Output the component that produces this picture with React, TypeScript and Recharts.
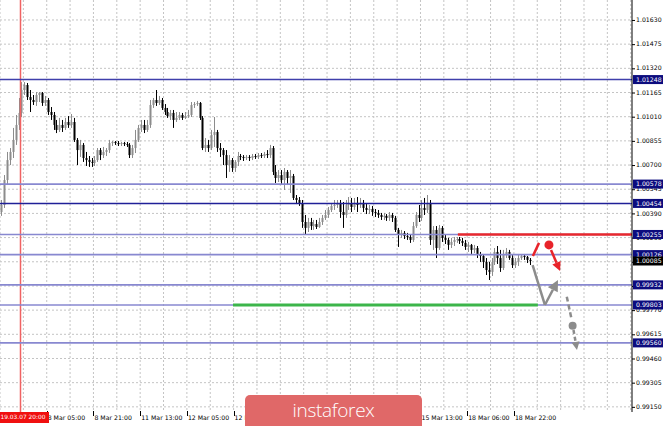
import React from 'react';
import { ComposedChart, Bar, XAxis, YAxis, CartesianGrid, ReferenceLine, ReferenceDot } from 'recharts';

// ---- OHLC (H1 candles) ----
const opens = [
  1.00399, 1.00444, 1.00604, 1.00732, 1.00784, 1.00861, 1.00957, 1.01034, 1.01181, 1.01213,
  1.01136, 1.01117, 1.01104, 1.01149, 1.01162, 1.01098, 1.01117, 1.0104, 1.01021, 1.00957,
  1.00925, 1.00957, 1.00938, 1.00976, 1.00957, 1.00976, 1.00861, 1.00796, 1.00829, 1.00745,
  1.00732, 1.0072, 1.00713, 1.00732, 1.00796, 1.00764, 1.00784, 1.00796, 1.00841, 1.00848,
  1.00841, 1.00835, 1.00841, 1.00835, 1.00829, 1.00764, 1.00809, 1.00861, 1.00938, 1.00957,
  1.00925, 1.00957, 1.01085, 1.01117, 1.01098, 1.01117, 1.01066, 1.0104, 1.01014, 1.01034,
  1.00989, 1.01002, 1.01021, 1.01002, 1.01014, 1.01021, 1.01085, 1.01091, 1.01098, 1.01002,
  1.00809, 1.00829, 1.00809, 1.00893, 1.00912, 1.00809, 1.00796, 1.00764, 1.007, 1.00732,
  1.00681, 1.0072, 1.00758, 1.00752, 1.00745, 1.00752, 1.00745, 1.00758, 1.00752, 1.00764,
  1.00758, 1.00771, 1.00764, 1.00809, 1.00656, 1.00617, 1.00636, 1.00604, 1.00656, 1.00617,
  1.0063, 1.00489, 1.00476, 1.00457, 1.00335, 1.00297, 1.00335, 1.00309, 1.00322, 1.00303,
  1.00335, 1.00361, 1.0038, 1.00412, 1.00438, 1.00444, 1.00457, 1.00399, 1.0038, 1.00444,
  1.00457, 1.00431, 1.00457, 1.00444, 1.00457, 1.00425, 1.00412, 1.00418, 1.00399, 1.00393,
  1.0038, 1.00367, 1.00374, 1.00361, 1.0038, 1.00361, 1.00284, 1.00252, 1.00265, 1.00245,
  1.00239, 1.0022, 1.00309, 1.0038, 1.00361, 1.00425, 1.00412, 1.00457, 1.0022, 1.00284,
  1.00168, 1.00297, 1.00233, 1.0022, 1.00188, 1.00207, 1.0022, 1.00226, 1.00213, 1.00201,
  1.00175, 1.00188, 1.00156, 1.00168, 1.00124, 1.00117, 1.00079, 1.00027, 1.00015, 1.00079,
  1.00143, 1.00104, 1.0004, 1.00124, 1.00143, 1.00104, 1.00059, 1.00079, 1.00104, 1.00117,
  1.00111, 1.00092,
];
const highs = [
  1.00476, 1.00636, 1.00784, 1.00809, 1.00938, 1.01021, 1.0113, 1.01232, 1.01232, 1.01226,
  1.01181, 1.01149, 1.01168, 1.01168, 1.01168, 1.01143, 1.0113, 1.01072, 1.0104, 1.00989,
  1.01002, 1.00989, 1.01002, 1.01014, 1.01027, 1.01002, 1.00873, 1.00861, 1.00841, 1.00784,
  1.00758, 1.00745, 1.00758, 1.00809, 1.00809, 1.00816, 1.00809, 1.00861, 1.00854, 1.00854,
  1.00854, 1.00848, 1.00848, 1.00848, 1.00841, 1.00829, 1.00925, 1.00957, 1.00989, 1.00989,
  1.00989, 1.01117, 1.0113, 1.01181, 1.01143, 1.0113, 1.01091, 1.01066, 1.01053, 1.01053,
  1.0104, 1.0104, 1.01034, 1.0104, 1.01053, 1.01104, 1.01104, 1.01111, 1.01104, 1.01014,
  1.00873, 1.00861, 1.00925, 1.01008, 1.00925, 1.00841, 1.00809, 1.00796, 1.00764, 1.00745,
  1.00732, 1.00784, 1.00771, 1.00764, 1.00764, 1.00764, 1.00771, 1.00771, 1.00777, 1.00777,
  1.00784, 1.00796, 1.00829, 1.00822, 1.007, 1.00668, 1.00668, 1.00681, 1.00668, 1.00668,
  1.00643, 1.00508, 1.00495, 1.00476, 1.0038, 1.00361, 1.00361, 1.00348, 1.00348, 1.00361,
  1.0038, 1.00412, 1.00431, 1.00457, 1.00476, 1.00476, 1.00476, 1.00463, 1.00476, 1.00495,
  1.00489, 1.00489, 1.00495, 1.00489, 1.00476, 1.0045, 1.00444, 1.00438, 1.00418, 1.00412,
  1.00393, 1.00393, 1.00386, 1.00399, 1.00393, 1.00374, 1.00297, 1.00284, 1.00277, 1.00265,
  1.00258, 1.00335, 1.00399, 1.00444, 1.00476, 1.00489, 1.00508, 1.00476, 1.00309, 1.00309,
  1.00316, 1.00309, 1.00252, 1.00233, 1.00233, 1.00239, 1.00239, 1.00239, 1.00233, 1.0022,
  1.00207, 1.00194, 1.00188, 1.00181, 1.00143, 1.0013, 1.00104, 1.00079, 1.00104, 1.00168,
  1.00181, 1.00156, 1.00156, 1.00168, 1.00156, 1.00124, 1.00104, 1.0013, 1.0013, 1.0013,
  1.00117, 1.00104,
];
const lows = [
  1.00374, 1.00425, 1.00572, 1.007, 1.00745, 1.00829, 1.00925, 1.01008, 1.01149, 1.01117,
  1.0104, 1.01085, 1.01079, 1.01104, 1.01079, 1.01079, 1.01021, 1.00989, 1.00925, 1.00905,
  1.00912, 1.00912, 1.00925, 1.00938, 1.00938, 1.00848, 1.007, 1.00752, 1.0072, 1.00694,
  1.00688, 1.00688, 1.00694, 1.0072, 1.00732, 1.00745, 1.00758, 1.00777, 1.00822, 1.00829,
  1.00822, 1.00822, 1.00822, 1.00816, 1.00745, 1.00745, 1.00777, 1.00848, 1.00912, 1.00905,
  1.00912, 1.00938, 1.01066, 1.01079, 1.01085, 1.01053, 1.01021, 1.01002, 1.00989, 1.00938,
  1.00976, 1.00989, 1.00989, 1.00995, 1.01002, 1.01008, 1.01066, 1.01079, 1.00989, 1.00796,
  1.00784, 1.00784, 1.00796, 1.00816, 1.00784, 1.00752, 1.007, 1.00617, 1.00656, 1.00656,
  1.00656, 1.00694, 1.00732, 1.00726, 1.00732, 1.00726, 1.00732, 1.00739, 1.00739, 1.00745,
  1.00745, 1.00745, 1.00745, 1.00636, 1.00585, 1.00591, 1.00572, 1.0054, 1.00572, 1.00521,
  1.00476, 1.0045, 1.00438, 1.00297, 1.00252, 1.00271, 1.00284, 1.00284, 1.0029, 1.00297,
  1.00316, 1.00348, 1.00361, 1.00399, 1.00412, 1.00425, 1.00361, 1.00297, 1.00361, 1.00412,
  1.00399, 1.00412, 1.00399, 1.00425, 1.00399, 1.00386, 1.00386, 1.00374, 1.00367, 1.00361,
  1.00348, 1.00348, 1.00342, 1.00342, 1.00335, 1.00271, 1.00175, 1.00233, 1.00226, 1.0022,
  1.00201, 1.00207, 1.00297, 1.00335, 1.00342, 1.0038, 1.00393, 1.00188, 1.00156, 1.00104,
  1.00156, 1.00207, 1.00194, 1.00156, 1.00168, 1.00181, 1.00201, 1.00194, 1.00181, 1.00156,
  1.00143, 1.0013, 1.00136, 1.00104, 1.00079, 1.0004, 0.99995, 0.99963, 0.99989, 1.00059,
  1.00066, 1.00015, 1.00027, 1.00104, 1.00092, 1.0004, 1.0004, 1.00053, 1.00092, 1.00092,
  1.00072, 1.00059,
];
const closes = [
  1.00444, 1.00604, 1.00732, 1.00784, 1.00861, 1.00957, 1.01034, 1.01181, 1.01213, 1.01136,
  1.01117, 1.01104, 1.01149, 1.01162, 1.01098, 1.01117, 1.0104, 1.01021, 1.00957, 1.00925,
  1.00957, 1.00938, 1.00976, 1.00957, 1.00976, 1.00861, 1.00796, 1.00829, 1.00745, 1.00732,
  1.0072, 1.00713, 1.00732, 1.00796, 1.00764, 1.00784, 1.00796, 1.00841, 1.00848, 1.00841,
  1.00835, 1.00841, 1.00835, 1.00829, 1.00764, 1.00809, 1.00861, 1.00938, 1.00957, 1.00925,
  1.00957, 1.01085, 1.01117, 1.01098, 1.01117, 1.01066, 1.0104, 1.01014, 1.01034, 1.00989,
  1.01002, 1.01021, 1.01002, 1.01014, 1.01021, 1.01085, 1.01091, 1.01098, 1.01002, 1.00809,
  1.00829, 1.00809, 1.00893, 1.00912, 1.00809, 1.00796, 1.00764, 1.007, 1.00732, 1.00681,
  1.0072, 1.00758, 1.00752, 1.00745, 1.00752, 1.00745, 1.00758, 1.00752, 1.00764, 1.00758,
  1.00771, 1.00764, 1.00809, 1.00656, 1.00617, 1.00636, 1.00604, 1.00656, 1.00617, 1.0063,
  1.00489, 1.00476, 1.00457, 1.00335, 1.00297, 1.00335, 1.00309, 1.00322, 1.00303, 1.00335,
  1.00361, 1.0038, 1.00412, 1.00438, 1.00444, 1.00457, 1.00399, 1.0038, 1.00444, 1.00457,
  1.00431, 1.00457, 1.00444, 1.00457, 1.00425, 1.00412, 1.00418, 1.00399, 1.00393, 1.0038,
  1.00367, 1.00374, 1.00361, 1.0038, 1.00361, 1.00284, 1.00252, 1.00265, 1.00245, 1.00239,
  1.0022, 1.00309, 1.0038, 1.00361, 1.00425, 1.00412, 1.00457, 1.0022, 1.00284, 1.00168,
  1.00297, 1.00233, 1.0022, 1.00188, 1.00207, 1.0022, 1.00226, 1.00213, 1.00201, 1.00175,
  1.00188, 1.00156, 1.00168, 1.00124, 1.00117, 1.00079, 1.00027, 1.00015, 1.00079, 1.00143,
  1.00104, 1.0004, 1.00124, 1.00143, 1.00104, 1.00059, 1.00079, 1.00104, 1.00117, 1.00111,
  1.00092, 1.00085,
];

// ---- axes ----
const yTicks = [1.0163, 1.01475, 1.0132, 1.01165, 1.0101, 1.00855, 1.007, 1.00545, 1.0039, 1.00235, 1.0008, 0.99925, 0.9977, 0.99615, 0.9946, 0.99305, 0.9915];
const levelValues = [1.01248, 1.00578, 1.00454, 1.00255, 1.00126, 0.99932, 0.99803, 0.9956];
const levelColors = ['#3f3fab', '#8888d0', '#202098', '#8888d0', '#8888d0', '#8888d0', '#8888d0', '#8888d0'];
const currentPrice = 1.00085;
const xGridBars = [0, 8, 16, 24, 32, 40, 48, 56, 64, 72, 80, 88, 96, 104, 112, 120, 128, 136, 144, 152, 160, 168, 176, 184, 192, 200, 208, 216];
// labels visible in the picture (those under the logo are hidden)
const xLabelBars = [16, 32, 48, 64, 80, 144, 160, 176];
const xLabels = ['8 Mar 05:00', '8 Mar 21:00', '11 Mar 13:00', '12 Mar 05:00', '12 Mar 21:00', '15 Mar 13:00', '18 Mar 06:00', '18 Mar 22:00'];
const crossBar = 7.02;
const crossLabel = '19.03.07 20:00';

// ---- annotations (bar index, price) ----
const redSegment = { from: 156.8, to: 216.44, price: 1.00255 };
const greenSegment = { from: 79.8, to: 184.2, price: 0.99803 };
const redDash = [[182.5, 1.00117], [184.6, 1.00201]];
const redDot = [188.0, 1.00188];
const redArrow = [[188.7, 1.00156], [191.8, 1.00021]];
const grayLine = [[182.4, 1.00059], [186.6, 0.99803]];
const grayArrow = [[186.6, 0.99803], [191.1, 0.99963]];
const grayDash = [[194.1, 0.99856], [195.8, 0.99707]];
const grayDot = [196.1, 0.9967];
const grayArrow2 = [[196.4, 0.99643], [197.6, 0.99515]];

const X_MAX = 216.44;
const Y_MIN = 0.99117;
const Y_MAX = 1.01758;
const FONT = 'DejaVu Sans, sans-serif';

const data = closes.map((c, i) => ({
  t: i + 0.5,
  o: opens[i],
  h: highs[i],
  l: lows[i],
  c,
  range: [lows[i], highs[i]],
}));

const Candle = (props: any) => {
  const { x, y, width, height, payload } = props;
  if (!payload || x == null) return null;
  const top = Math.min(y, y + height);
  const bot = Math.max(y, y + height);
  const { o, h, l, c } = payload;
  const span = h - l || 1e-9;
  const py = (v: number) => top + ((h - v) / span) * (bot - top);
  const cx = Math.round(x + width / 2);
  const up = c >= o;
  const color = up ? '#8c8c8c' : '#000000';
  const bt = py(Math.max(o, c));
  const bb = py(Math.min(o, c));
  return (
    <g>
      <line x1={cx + 0.5} x2={cx + 0.5} y1={top} y2={bot} stroke={color} strokeWidth={1} />
      <rect x={cx - 0.5} y={bt} width={2} height={Math.max(1, bb - bt)} fill={color} />
    </g>
  );
};

const YTick = (props: any) => {
  const { x, y, payload } = props;
  const v = payload.value;
  const lvl = levelValues.indexOf(v);
  const txt = v.toFixed(5);
  if (lvl >= 0 || v === currentPrice) {
    const bg = v === currentPrice ? '#000000' : '#0c0c7e';
    return (
      <g>
        <rect x={x + 1} y={y - 4.5} width={30} height={9} fill={bg} />
        <text x={x + 4} y={y} dy="0.35em" fontSize={6.2} fontFamily={FONT} fill="#ffffff">{txt}</text>
      </g>
    );
  }
  return (
    <g>
      <line x1={x} x2={x + 3} y1={y + 0.5} y2={y + 0.5} stroke="#000" strokeWidth={1} />
      <text x={x + 4} y={y} dy="0.35em" fontSize={6.2} fontFamily={FONT} fill="#000000">{txt}</text>
    </g>
  );
};

const XTick = (props: any) => {
  const { x, y, payload } = props;
  const k = xLabelBars.indexOf(payload.value);
  if (k < 0) return null;
  const px = Math.round(x) + 0.5;
  return (
    <g>
      <line x1={px} x2={px} y1={y - 1} y2={y + 4} stroke="#000" strokeWidth={1} />
      <text x={x + 1} y={y + 8} fontSize={6.2} fontFamily={FONT} fill="#000000">{xLabels[k]}</text>
    </g>
  );
};

const arrowShape = (color: string, width: number, dash: string | undefined, head: number) => (p: any) => {
  const { x1, y1, x2, y2 } = p;
  const dx = x2 - x1;
  const dy = y2 - y1;
  const len = Math.hypot(dx, dy) || 1;
  const ux = dx / len;
  const uy = dy / len;
  const bx = x2 - ux * head;
  const by = y2 - uy * head;
  const nx = -uy;
  const ny = ux;
  const hw = head * 0.5;
  return (
    <g>
      <line x1={x1} y1={y1} x2={head ? bx : x2} y2={head ? by : y2} stroke={color} strokeWidth={width} strokeDasharray={dash} />
      {head > 0 && (
        <polygon points={`${x2},${y2} ${bx + nx * hw},${by + ny * hw} ${bx - nx * hw},${by - ny * hw}`} fill={color} />
      )}
    </g>
  );
};

const seg = (pts: number[][]) => [{ x: pts[0][0], y: pts[0][1] }, { x: pts[1][0], y: pts[1][1] }];

export default function App() {
  return (
    <div style={{ position: 'absolute', left: 0, top: 0, width: 665, height: 426, background: '#fff', overflow: 'hidden' }}>
      <ComposedChart width={665} height={426} data={data} margin={{ top: 0, right: 0, bottom: 0, left: 0 }}>
        <CartesianGrid
          stroke="#c4c4c4"
          strokeDasharray="2 2"
          horizontalValues={yTicks}
          verticalValues={xGridBars}
        />
        <XAxis
          dataKey="t"
          type="number"
          domain={[0, X_MAX]}
          allowDataOverflow
          ticks={xGridBars}
          interval={0}
          height={14}
          tickSize={0}
          tickMargin={0}
          tickLine={false}
          axisLine={false}
          tick={<XTick />}
        />
        <YAxis
          orientation="right"
          type="number"
          domain={[Y_MIN, Y_MAX]}
          allowDataOverflow
          ticks={[...yTicks, ...levelValues, currentPrice]}
          interval={0}
          width={33}
          tickSize={0}
          tickMargin={0}
          tickLine={false}
          axisLine={{ stroke: '#000', strokeWidth: 1 }}
          tick={<YTick />}
        />
        <ReferenceLine x={crossBar} stroke="#f06262" strokeWidth={1.5} />
        {levelValues.map((v, i) => (
          <ReferenceLine key={'lv' + i} y={v} stroke={levelColors[i]} strokeWidth={1.6} />
        ))}
        <ReferenceLine
          segment={[{ x: redSegment.from, y: redSegment.price }, { x: redSegment.to, y: redSegment.price }]}
          stroke="#e8282e"
          strokeWidth={2.5}
        />
        <ReferenceLine
          segment={[{ x: greenSegment.from, y: greenSegment.price }, { x: greenSegment.to, y: greenSegment.price }]}
          stroke="#3cb54a"
          strokeWidth={3}
        />
        <Bar dataKey="range" barSize={2} isAnimationActive={false} shape={<Candle />} />
        <ReferenceLine segment={seg(redDash)} shape={arrowShape('#e8232a', 2.5, undefined, 0)} />
        <ReferenceLine segment={seg(redArrow)} shape={arrowShape('#e8232a', 2.5, undefined, 9)} />
        <ReferenceDot x={redDot[0]} y={redDot[1]} r={4.5} fill="#e8232a" stroke="none" />
        <ReferenceLine segment={seg(grayLine)} shape={arrowShape('#8c8c8c', 2.5, undefined, 0)} />
        <ReferenceLine segment={seg(grayArrow)} shape={arrowShape('#8c8c8c', 2.5, undefined, 11)} />
        <ReferenceLine segment={seg(grayDash)} shape={arrowShape('#8c8c8c', 2.5, '5 3', 0)} />
        <ReferenceDot x={grayDot[0]} y={grayDot[1]} r={4} fill="#8c8c8c" stroke="none" />
        <ReferenceLine segment={seg(grayArrow2)} shape={arrowShape('#8c8c8c', 2.5, '4 3', 8)} />
      </ComposedChart>
      <div
        style={{
          position: 'absolute', left: 0, top: 412, width: 49, height: 11, background: '#f01010',
          color: '#fff', fontFamily: FONT, fontSize: 5.9, lineHeight: '11px', paddingLeft: 0.5, boxSizing: 'border-box', whiteSpace: 'nowrap', overflow: 'hidden',
        }}
      >
        {crossLabel}
      </div>
      <div
        style={{
          position: 'absolute', left: 245, top: 395, width: 177, height: 40, background: '#e06868',
          borderRadius: 5, color: '#fff', fontFamily: '"Open Sans", sans-serif', fontWeight: 300,
          fontSize: 19, lineHeight: '31px', textAlign: 'center', letterSpacing: -0.3,
        }}
      >
        instaforex
      </div>
    </div>
  );
}
